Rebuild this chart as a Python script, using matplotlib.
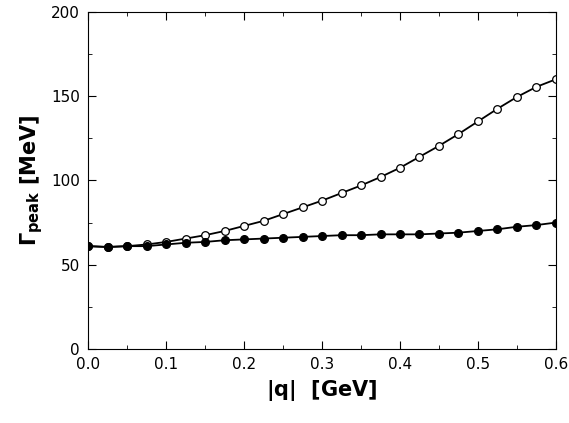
import matplotlib
matplotlib.use("Agg")
import matplotlib.pyplot as plt
import numpy as np
from matplotlib.ticker import MultipleLocator

q = np.arange(25) * 0.025
gamma_open = [61, 60.5, 61, 62, 63.5, 65.5, 67.5, 70, 73, 76, 80, 84, 88, 92.5, 97,
              102, 107.5, 114, 120.5, 127.5, 135, 142.5, 149.5, 155.5, 160]
gamma_filled = [61, 60.5, 61, 61, 62, 63, 63.5, 64.5, 65, 65.5, 66, 66.5, 67, 67.5, 67.5,
                68, 68, 68, 68.5, 69, 70, 71, 72.5, 73.5, 75]

fig = plt.figure(figsize=(5.69, 4.23), dpi=100)
ax = fig.add_axes([0.155, 0.175, 0.822, 0.797])
ax.plot(q, gamma_open, '-o', color='black', mfc='white', ms=5.5, lw=1.3, mew=0.9)
ax.plot(q, gamma_filled, '-o', color='black', mfc='black', ms=5.5, lw=1.3)
ax.set_xlim(0, 0.6)
ax.set_ylim(0, 200)
ax.xaxis.set_major_locator(MultipleLocator(0.1))
ax.xaxis.set_minor_locator(MultipleLocator(0.05))
ax.yaxis.set_major_locator(MultipleLocator(50))
ax.yaxis.set_minor_locator(MultipleLocator(25))
ax.tick_params(which='both', direction='in', top=True, right=True, labelsize=11)
ax.tick_params(which='major', length=6, pad=6)
ax.tick_params(which='minor', length=3)
ax.set_xlabel(r'$\mathbf{|q|}$  [GeV]', fontsize=15, fontweight='bold')
ax.set_ylabel(r'$\mathbf{\Gamma_{peak}}$ [MeV]', fontsize=15, fontweight='bold')
fig.savefig('out.png')
